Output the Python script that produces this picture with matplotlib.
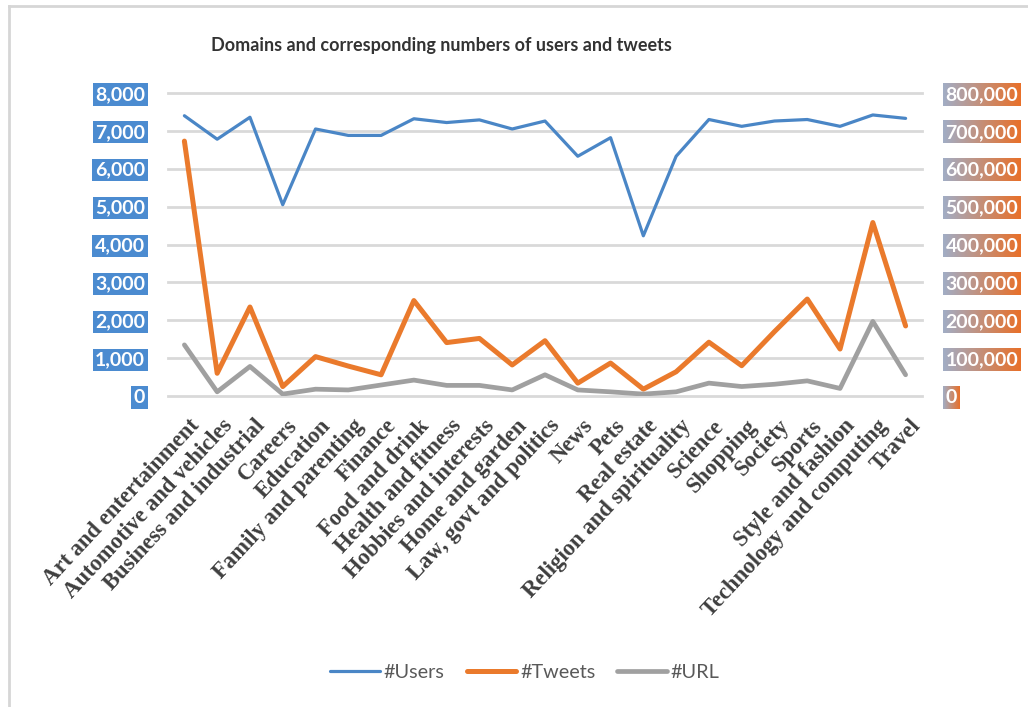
import matplotlib
matplotlib.use("Agg")
import matplotlib.pyplot as plt
import numpy as np
from matplotlib.ticker import FuncFormatter
from matplotlib.image import BboxImage
from matplotlib.transforms import ScaledTranslation
from matplotlib.lines import Line2D
from matplotlib.colors import to_rgb

# ---- data -------------------------------------------------------------
domains = [
    "Art and entertainment", "Automotive and vehicles", "Business and industrial",
    "Careers", "Education", "Family and parenting", "Finance", "Food and drink",
    "Health and fitness", "Hobbies and interests", "Home and garden",
    "Law, govt and politics", "News", "Pets", "Real estate",
    "Religion and spirituality", "Science", "Shopping", "Society", "Sports",
    "Style and fashion", "Technology and computing", "Travel",
]
users = [7400, 6780, 7360, 5050, 7050, 6880, 6880, 7320, 7220, 7290, 7050, 7260,
         6330, 6820, 4230, 6330, 7300, 7120, 7260, 7300, 7120, 7420, 7330]
tweets = [673000, 60000, 235000, 25000, 104000, 79000, 56000, 252000, 141000,
          152000, 82000, 146000, 34000, 87000, 18000, 64000, 142000, 80000,
          170000, 256000, 124000, 458000, 185000]
urls = [135000, 11000, 78000, 5000, 18000, 16000, 29000, 42000, 28000, 28000,
        16000, 56000, 16000, 11000, 5000, 11000, 34000, 25000, 31000, 40000,
        20000, 197000, 56000]
left_ticks = list(range(0, 8001, 1000))
right_ticks = list(range(0, 800001, 100000))

# ---- style ------------------------------------------------------------
C_USERS = "#4A86C6"
C_TWEETS = "#EA7A2C"
C_URL = "#A0A0A0"
C_GRID = "#D9D9D9"
C_LEFTBOX = "#4B8BD0"
GRAD_L = to_rgb("#A2ADC4")
GRAD_R = to_rgb("#E8702A")
NUMFONT = "Lato"

W, H = 1028, 707
fig = plt.figure(figsize=(W / 100, H / 100), dpi=100)
fig.patch.set_facecolor("white")

ax = fig.add_axes([168 / W, (H - 396) / H, (922 - 168) / W, (396 - 93) / H])
ax2 = ax.twinx()

x = np.arange(len(domains))
common = dict(solid_joinstyle="round", solid_capstyle="round")
ax.plot(x, users, color=C_USERS, lw=2.3, label="#Users", **common)
ax2.plot(x, tweets, color=C_TWEETS, lw=3.6, label="#Tweets", **common)
ax2.plot(x, urls, color=C_URL, lw=3.4, label="#URL", **common)

ax.set_xlim(-0.5, len(domains) - 0.5)
ax.set_ylim(0, 8000)
ax2.set_ylim(0, 800000)

for a in (ax, ax2):
    for s in a.spines.values():
        s.set_visible(False)

# horizontal gridlines
ax.set_yticks(left_ticks)
ax.yaxis.grid(True, color=C_GRID, lw=2.0)
ax.set_axisbelow(True)
for gl in ax.get_ygridlines():
    gl.set_clip_on(False)

fmt = FuncFormatter(lambda v, p: f"{int(v):,}")
ax.yaxis.set_major_formatter(fmt)
ax.tick_params(axis="y", length=0, pad=16.5, labelcolor="white", labelsize=14)
for lbl in ax.get_yticklabels():
    lbl.set_fontfamily(NUMFONT)
    lbl.set_fontweight("bold")
    lbl.set_bbox(dict(boxstyle="square,pad=0.13", fc=C_LEFTBOX, ec="none"))

ax2.set_yticks(right_ticks)
ax2.yaxis.set_major_formatter(fmt)
ax2.tick_params(axis="y", length=0, pad=17, labelcolor="white", labelsize=14)
for lbl in ax2.get_yticklabels():
    lbl.set_fontfamily(NUMFONT)
    lbl.set_fontweight("bold")
    lbl.set_bbox(dict(boxstyle="square,pad=0.13", fc="none", ec="none"))

# category labels
ax.set_xticks(x)
ax.set_xticklabels(domains, rotation=47, ha="right", va="top",
                   rotation_mode="anchor", fontfamily="Liberation Serif",
                   fontweight="bold", fontsize=16.3, color="#3F3F3F")
ax.tick_params(axis="x", length=0, pad=14)
shift = ScaledTranslation(4 / 100, 0, fig.dpi_scale_trans)
for lbl in ax.get_xticklabels():
    lbl.set_transform(lbl.get_transform() + shift)

# title
fig.text(441 / W, 1 - 46 / H, "Domains and corresponding numbers of users and tweets",
         ha="center", va="center", fontsize=13, fontweight="bold",
         fontfamily=NUMFONT, color="#333333")

# legend
handles = ax.get_lines() + ax2.get_lines()
leg = fig.legend(handles, [h.get_label() for h in handles], loc="center",
                 bbox_to_anchor=(525 / W, 1 - 672 / H), ncol=3, frameon=False,
                 handlelength=2.5, handletextpad=0.2, columnspacing=1.1,
                 prop={"family": NUMFONT, "size": 14.3})
for t in leg.get_texts():
    t.set_color("#595959")

# outer frame (top and left edges)
fig.add_artist(Line2D([9 / W, 9 / W], [0, 1 - 6 / H], color="#D6D6D6", lw=2.0))
fig.add_artist(Line2D([9 / W, 1], [1 - 6 / H, 1 - 6 / H], color="#D6D6D6", lw=2.0))

# gradient backgrounds behind the right-hand axis labels
fig.canvas.draw()
renderer = fig.canvas.get_renderer()
grad = np.linspace(0, 1, 64)[None, :, None]
grad_img = (1 - grad) * np.array(GRAD_L)[None, None, :] + grad * np.array(GRAD_R)[None, None, :]
for lbl in ax2.get_yticklabels():
    if not lbl.get_visible() or not lbl.get_text():
        continue
    patch = lbl.get_bbox_patch()
    bb = patch.get_window_extent(renderer)
    im = BboxImage(bb, interpolation="bilinear", zorder=-1)
    im.set_data(grad_img)
    fig.add_artist(im)

fig.savefig("out.png", dpi=100, facecolor="white")
